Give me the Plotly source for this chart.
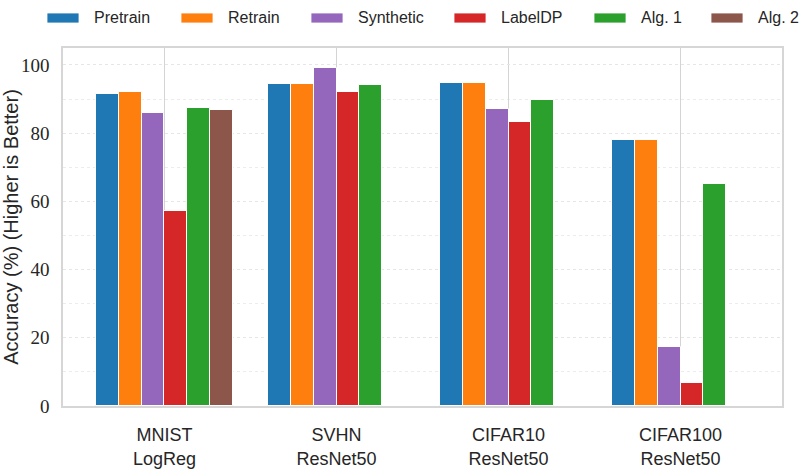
import numpy as np
import plotly.graph_objects as go

categories = ["MNIST<br>LogReg", "SVHN<br>ResNet50", "CIFAR10<br>ResNet50", "CIFAR100<br>ResNet50"]
series_names = ["Pretrain", "Retrain", "Synthetic", "LabelDP", "Alg. 1", "Alg. 2"]
pretrain = [91.6, 94.5, 94.8, 78.1]
retrain = [92.0, 94.4, 94.6, 78.1]
synthetic = [85.8, 99.0, 87.1, 17.4]
labeldp = [57.2, 92.0, 83.3, 6.8]
alg1 = [87.4, 94.0, 89.8, 65.2]
alg2 = [86.9, None, None, None]
colors = ["#1f77b4", "#ff7f0e", "#9467bd", "#d62728", "#2ca02c", "#8c564b"]

series = [pretrain, retrain, synthetic, labeldp, alg1, alg2]

W, H = 810, 472
ml, mr, mt, mb = 63, 28, 48, 66
pw, ph = W - ml - mr, H - mt - mb

n = len(series)
bw = 0.8 / n
idx = np.arange(len(categories))

fig = go.Figure()
for j, (name, vals, col) in enumerate(zip(series_names, series, colors)):
    fig.add_trace(go.Bar(
        x=idx + (j - (n - 1) / 2) * bw,
        y=vals,
        width=bw,
        name=name,
        marker=dict(color=col, line=dict(color="white", width=1)),
        showlegend=False,
    ))

# custom legend (wide swatches like the reference)
legend_px = [47, 181, 311, 454, 594, 711]
shapes = []
annotations = []
for name, col, px in zip(series_names, colors, legend_px):
    x0 = (px - ml) / pw
    x1 = (px + 32 - ml) / pw
    y0 = (H - mb - 23) / ph
    y1 = (H - mb - 13) / ph
    shapes.append(dict(type="rect", xref="paper", yref="paper", x0=x0, x1=x1, y0=y0, y1=y1,
                       fillcolor=col, line=dict(color="white", width=0.8), layer="above"))
    annotations.append(dict(text=name, xref="paper", yref="paper", x=(px + 45 - ml) / pw,
                            y=(H - mb - 18) / ph, xanchor="left", yanchor="middle", showarrow=False,
                            font=dict(family="Liberation Sans, Arial", size=16, color="#262626")))

fig.update_layout(
    width=W, height=H,
    margin=dict(l=ml, r=mr, t=mt, b=mb, autoexpand=False),
    plot_bgcolor="white", paper_bgcolor="white",
    bargap=0, barmode="overlay",
    shapes=shapes, annotations=annotations,
    showlegend=False,
)
fig.update_xaxes(
    range=[-0.59, 3.59], automargin=False,
    tickvals=list(idx), ticktext=categories,
    tickfont=dict(family="Liberation Sans, Arial", size=18, color="#262626"),
    showgrid=True, gridcolor="#d4d4d4", gridwidth=1,
    showline=True, mirror=True, linecolor="#d6d6d6", linewidth=1.5,
    ticks="", ticklabelstandoff=12, zeroline=False,
)
fig.update_yaxes(
    range=[0, 104.95], automargin=False,
    tickvals=[0, 20, 40, 60, 80, 100],
    tickfont=dict(family="Liberation Serif, serif", size=19, color="#262626"),
    showgrid=True, gridcolor="#e6e6e6", gridwidth=1, griddash="dot",
    minor=dict(tickvals=[10, 30, 50, 70, 90], showgrid=True, gridcolor="#ececec", griddash="dot", gridwidth=1),
    showline=True, mirror=True, linecolor="#d6d6d6", linewidth=1.5,
    ticks="", ticklabelstandoff=8, zeroline=False,
    title=dict(text="Accuracy (%) (Higher is Better)", standoff=10,
               font=dict(family="Liberation Sans, Arial", size=20, color="#262626")),
)

fig.write_html("out.html", config={"displayModeBar": False},
               post_script="document.body.style.margin='0px';")
